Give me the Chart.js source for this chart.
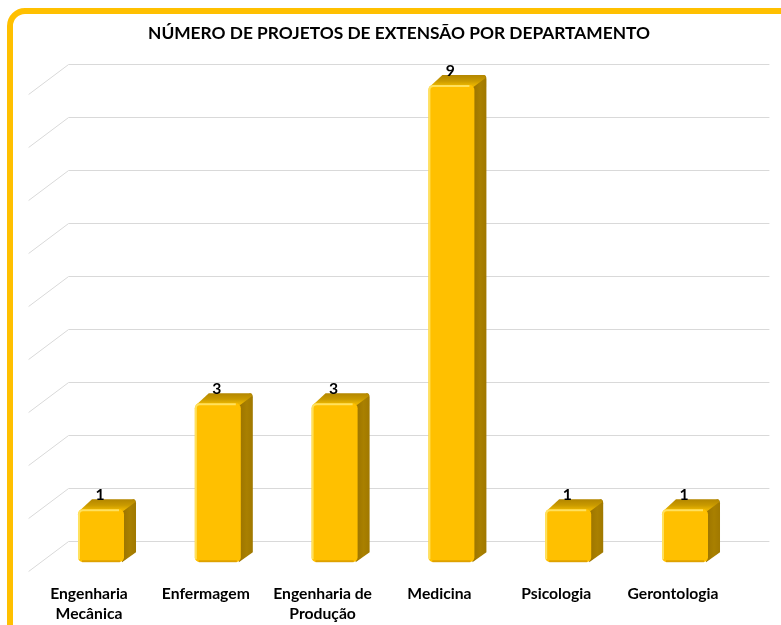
<!DOCTYPE html>
<html>
<head>
<meta charset="utf-8">
<script src="https://cdn.jsdelivr.net/npm/chart.js@4"></script>
<style>
  html, body { margin: 0; padding: 0; background: #fff; overflow: hidden; }
  #wrap { position: relative; width: 781px; height: 625px; overflow: hidden; background: #fff; }
  #frame { position: absolute; left: 7px; top: 8px; width: 820px; height: 700px;
           border: 6px solid #FFC000; border-radius: 18px; box-sizing: border-box; }
  canvas { position: absolute; left: 0; top: 0; }
</style>
</head>
<body>
<div id="wrap">
  <div id="frame"></div>
  <canvas id="chart" width="781" height="625"></canvas>
</div>
<script>
const chartTitle = 'NÚMERO DE PROJETOS DE EXTENSÃO POR DEPARTAMENTO';
const departments = [['Engenharia', 'Mecânica'], 'Enfermagem', ['Engenharia de', 'Produção'], 'Medicina', 'Psicologia', 'Gerontologia'];
const projects = [1, 3, 3, 9, 1, 1];
const gridValues = [0, 1, 2, 3, 4, 5, 6, 7, 8, 9];

const FONT = 'Lato, "Open Sans", sans-serif';

// depth of the bars and of the back wall (oblique projection)
const BAR_DX = 12, BAR_DY = -10;
const WALL_DX = 26, WALL_DY = -21;
const SIDE_DX = -40, SIDE_DY = 30;

// size a font so a given text gets the width seen in the picture
function fitSize(text, targetWidth) {
    const c = document.createElement('canvas').getContext('2d');
    c.font = 'bold 100px ' + FONT;
    return 100 * targetWidth / c.measureText(text).width;
}

const titleSize = fitSize(chartTitle, 502);
const labelSize = fitSize('Enfermagem', 88);
const titleTop = 33 - 0.6 * titleSize;
const titleBottom = 85 - titleTop - 1.2 * titleSize;

const bars3d = {
    id: 'bars3d',
    beforeDatasetsDraw(chart) {
        const ctx = chart.ctx;
        const area = chart.chartArea;
        const y = chart.scales.y;

        // back wall grid + left wall diagonals
        ctx.save();
        ctx.strokeStyle = '#D9D9D9';
        ctx.lineWidth = 1;
        gridValues.forEach(v => {
            const py = Math.round(y.getPixelForValue(v) + WALL_DY) + 0.5;
            const x0 = area.left + WALL_DX;
            ctx.beginPath();
            ctx.moveTo(x0 + SIDE_DX, py + SIDE_DY);
            ctx.lineTo(x0, py);
            ctx.lineTo(area.right + WALL_DX, py);
            ctx.stroke();
        });
        ctx.restore();

        // side and top faces
        const meta = chart.getDatasetMeta(0);
        ctx.save();
        meta.data.forEach(bar => {
            const p = bar.getProps(['x', 'y', 'base', 'width'], true);
            const l = p.x - p.width / 2, r = p.x + p.width / 2;
            const top = p.y, base = p.base;

            const side = ctx.createLinearGradient(r, 0, r + BAR_DX, 0);
            side.addColorStop(0, '#9E7600');
            side.addColorStop(0.5, '#A98000');
            side.addColorStop(1, '#A07800');
            ctx.fillStyle = side;
            ctx.beginPath();
            ctx.moveTo(r - 2, top + 2);
            ctx.lineTo(r + BAR_DX - 3, top + BAR_DY);
            ctx.quadraticCurveTo(r + BAR_DX, top + BAR_DY, r + BAR_DX, top + BAR_DY + 4);
            ctx.lineTo(r + BAR_DX, base + BAR_DY);
            ctx.lineTo(r - 2, base);
            ctx.closePath();
            ctx.fill();

            const topFace = ctx.createLinearGradient(0, top + BAR_DY, 0, top);
            topFace.addColorStop(0, '#B38600');
            topFace.addColorStop(0.6, '#C99A00');
            topFace.addColorStop(1, '#E8B300');
            ctx.fillStyle = topFace;
            ctx.beginPath();
            ctx.moveTo(l + 1, top + 2);
            ctx.lineTo(l + BAR_DX + 2, top + BAR_DY);
            ctx.lineTo(r + BAR_DX - 3, top + BAR_DY);
            ctx.quadraticCurveTo(r + BAR_DX, top + BAR_DY, r + BAR_DX - 1, top + BAR_DY + 3);
            ctx.lineTo(r - 1, top + 2);
            ctx.closePath();
            ctx.fill();
        });
        ctx.restore();
    },
    afterDatasetsDraw(chart) {
        const ctx = chart.ctx;
        const meta = chart.getDatasetMeta(0);
        ctx.save();
        meta.data.forEach((bar, i) => {
            const p = bar.getProps(['x', 'y', 'base', 'width'], true);
            const l = p.x - p.width / 2, r = p.x + p.width / 2;

            // bevel: light rim at top and left, darker rim at bottom
            ctx.lineWidth = 2;
            ctx.strokeStyle = 'rgba(255, 230, 110, 0.85)';
            ctx.beginPath();
            ctx.moveTo(l + 1, p.base - 3);
            ctx.lineTo(l + 1, p.y + 5);
            ctx.quadraticCurveTo(l + 1, p.y + 1, l + 5, p.y + 1);
            ctx.lineTo(r - 5, p.y + 1);
            ctx.stroke();
            ctx.strokeStyle = 'rgba(200, 140, 0, 0.6)';
            ctx.beginPath();
            ctx.moveTo(l + 4, p.base - 1);
            ctx.lineTo(r - 4, p.base - 1);
            ctx.stroke();

            // value label
            ctx.fillStyle = '#000';
            ctx.font = 'bold ' + labelSize.toFixed(1) + 'px ' + FONT;
            ctx.textAlign = 'center';
            ctx.textBaseline = 'alphabetic';
            ctx.fillText(String(projects[i]), p.x - 1, p.y + BAR_DY + 1);
        });
        ctx.restore();
    }
};

new Chart(document.getElementById('chart'), {
    type: 'bar',
    data: {
        labels: departments,
        datasets: [{
            data: projects,
            backgroundColor: '#FFC000',
            borderRadius: 5,
            borderSkipped: false,
            barPercentage: 0.394,
            categoryPercentage: 1
        }]
    },
    options: {
        responsive: false,
        animation: false,
        devicePixelRatio: 1,
        layout: {
            padding: { left: 17, right: 0, top: 0, bottom: 2.75 }
        },
        plugins: {
            legend: { display: false },
            tooltip: { enabled: false },
            title: {
                display: true,
                text: chartTitle,
                color: '#000',
                font: { family: FONT, size: titleSize, weight: 'bold' },
                padding: { top: titleTop, bottom: titleBottom }
            }
        },
        scales: {
            x: {
                grid: { display: false, drawTicks: false },
                border: { display: false },
                ticks: {
                    color: '#000',
                    font: { family: FONT, size: labelSize, weight: 'bold', lineHeight: 1.3 },
                    padding: 21.25,
                    labelOffset: -12,
                    maxRotation: 0
                },
                afterFit(scale) { scale.height = 60; }
            },
            y: {
                min: 0,
                max: 9,
                grid: { display: false },
                border: { display: false },
                ticks: { display: false },
                afterFit(scale) { scale.width = 25.6; }
            },
            yRight: {
                position: 'right',
                grid: { display: false },
                border: { display: false },
                ticks: { display: false },
                afterFit(scale) { scale.width = 37.6; }
            }
        }
    },
    plugins: [bars3d]
});
</script>
</body>
</html>
